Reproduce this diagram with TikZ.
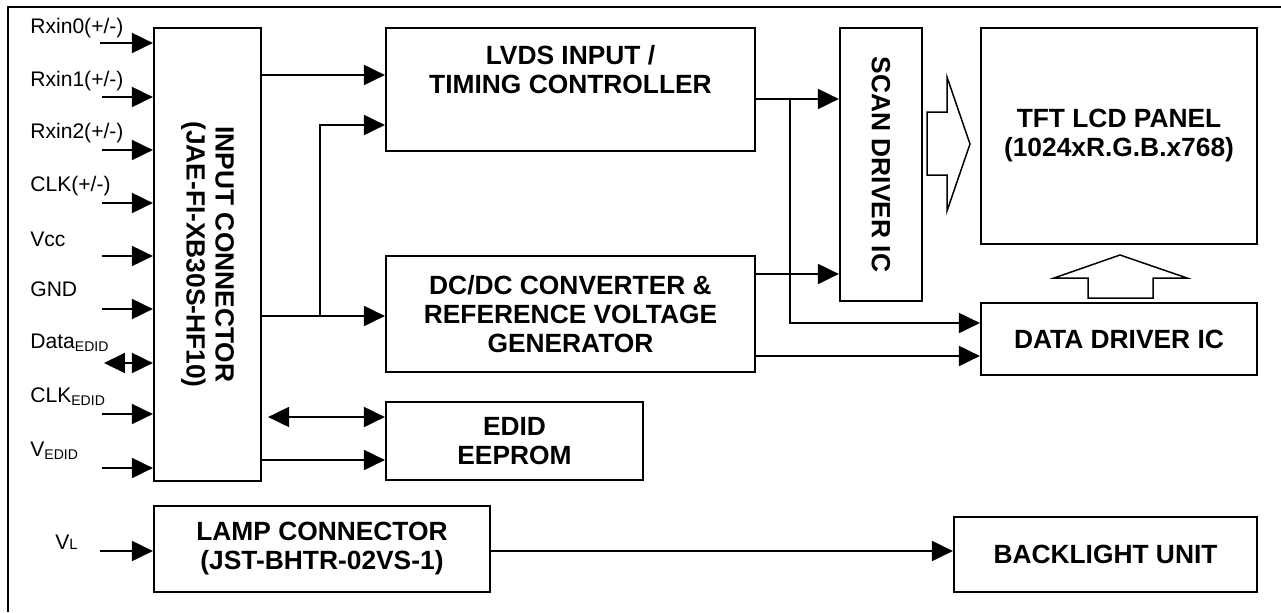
\documentclass[tikz,border=0pt]{standalone}
\usepackage{fontspec}
\setmainfont{Liberation Sans}
\usetikzlibrary{positioning, arrows.meta}

\tikzset{
  blk/.style={draw, line width=0.045cm, align=center, inner sep=0pt,
    font=\bfseries\fontsize{15}{16.5}\selectfont},
  blktxt/.style={align=center, inner sep=0pt, font=\bfseries\fontsize{15}{16.5}\selectfont},
  sig/.style={line width=0.04cm, -{Triangle[length=0.42cm,width=0.4cm]}},
  bisig/.style={line width=0.04cm, {Triangle[length=0.42cm,width=0.4cm]}-{Triangle[length=0.42cm,width=0.4cm]}},
  sigtxt/.style={anchor=base west, inner sep=0pt, font=\fontsize{12}{14}\selectfont},
  hollow/.style={draw, line width=0.03cm, line join=miter}
}

\begin{document}
\begin{tikzpicture}[x=0.02cm, y=-0.02cm]
  \useasboundingbox (0,0) rectangle (1281,612);
  % marco exterior
  \draw[line width=0.045cm] (8,612) -- (8,7) -- (1281,7);

  % bloques
  \node[blk, minimum width=2.14cm, minimum height=9.06cm] (conn) at (207.5,254.5) {};
  \node[blktxt, rotate=-90] at (conn.center) {INPUT CONNECTOR\\(JAE-FI-XB30S-HF10)};
  \node[blk, minimum width=7.38cm, minimum height=2.46cm] (lvds) at (570.5,89.5) {};
  \node[blktxt] at ([yshift=0.4cm]lvds.center) {LVDS INPUT /\\TIMING CONTROLLER};
  \node[blk, minimum width=7.38cm, minimum height=2.32cm] (dcdc) at (570.5,314) {DC/DC CONVERTER \&\\REFERENCE VOLTAGE\\GENERATOR};
  \node[blk, minimum width=5.14cm, minimum height=1.56cm] (edid) at (514.5,441) {EDID\\EEPROM};
  \node[blk, minimum width=1.64cm, minimum height=5.46cm] (scan) at (881,164.5) {};
  \node[blktxt, rotate=-90] at (scan.center) {SCAN DRIVER IC};
  \node[blk, minimum width=5.52cm, minimum height=4.32cm] (tft) at (1119,136) {TFT LCD PANEL\\(1024xR.G.B.x768)};
  \node[blk, minimum width=5.52cm, minimum height=1.44cm] (data) at (1119,339) {DATA DRIVER IC};
  \node[blk, minimum width=6.72cm, minimum height=1.72cm] (lamp) at (322,549) {LAMP CONNECTOR\\(JST-BHTR-02VS-1)};
  \node[blk, minimum width=6.06cm, minimum height=1.5cm] (back) at (1105.5,554.5) {BACKLIGHT UNIT};

  % entradas
  \node[sigtxt] (t0) at (30,33) {Rxin0(+/-)};
  \node[sigtxt] (t1) at (30,86) {Rxin1(+/-)};
  \node[sigtxt] (t2) at (30,138) {Rxin2(+/-)};
  \node[sigtxt] (t3) at (30,191) {CLK(+/-)};
  \node[sigtxt] (t4) at (30,246) {Vcc};
  \node[sigtxt] (t5) at (30,296) {GND};
  \node[sigtxt] (t6) at (30,348) {Data\textsubscript{EDID}};
  \node[sigtxt] (t7) at (30,402) {CLK\textsubscript{EDID}};
  \node[sigtxt] (t8) at (30,456) {V\textsubscript{EDID}};
  \node[sigtxt] (tl) at (55,549) {V{\fontsize{8.5}{9}\selectfont L}};

  \coordinate (i0) at (100,43);
  \coordinate (i1) at (102,97);
  \coordinate (i2) at (102,150);
  \coordinate (i3) at (102,203);
  \coordinate (i4) at (102,256);
  \coordinate (i5) at (102,309);
  \coordinate (i6) at (104,363);
  \coordinate (i7) at (102,414);
  \coordinate (i8) at (102,468);
  \coordinate (il) at (100,551);

  \draw[sig] (i0) -- (conn.west |- i0);
  \draw[sig] (i1) -- (conn.west |- i1);
  \draw[sig] (i2) -- (conn.west |- i2);
  \draw[sig] (i3) -- (conn.west |- i3);
  \draw[sig] (i4) -- (conn.west |- i4);
  \draw[sig] (i5) -- (conn.west |- i5);
  \draw[bisig] (i6) -- (conn.west |- i6);
  \draw[sig] (i7) -- (conn.west |- i7);
  \draw[sig] (i8) -- (conn.west |- i8);
  \draw[sig] (il) -- (lamp.west |- il);

  % conexiones internas
  \coordinate (j1) at (320,316);
  \coordinate (j2) at (790,99);
  \draw[sig] (conn.east |- 0,75) -- (lvds.west |- 0,75);
  \draw[sig] (conn.east |- j1) -- (dcdc.west |- j1);
  \draw[sig] (j1) |- (lvds.west |- 0,125);
  \draw[bisig, shorten <=0.12cm] (conn.east |- 0,417) -- (edid.west |- 0,417);
  \draw[sig] (conn.east |- 0,460) -- (edid.west |- 0,460);
  \draw[sig] (lvds.east |- j2) -- (scan.west |- j2);
  \draw[sig] (j2) |- (data.west |- 0,323);
  \draw[sig] (dcdc.east |- 0,274) -- (scan.west |- 0,274);
  \draw[sig] (dcdc.east |- 0,356) -- (data.west |- 0,356);
  \draw[sig] (lamp.east |- il) -- (back.west |- il);

  % flechas huecas
  \draw[hollow] (927,112) -- (947,112) -- (947,77) -- (970,144) -- (947,211) -- (947,175) -- (927,175) -- cycle;
  \draw[hollow] (1088,298) -- (1088,278) -- (1054,278) -- (1120,255) -- (1187,278) -- (1153,278) -- (1153,298) -- cycle;
\end{tikzpicture}
\end{document}
